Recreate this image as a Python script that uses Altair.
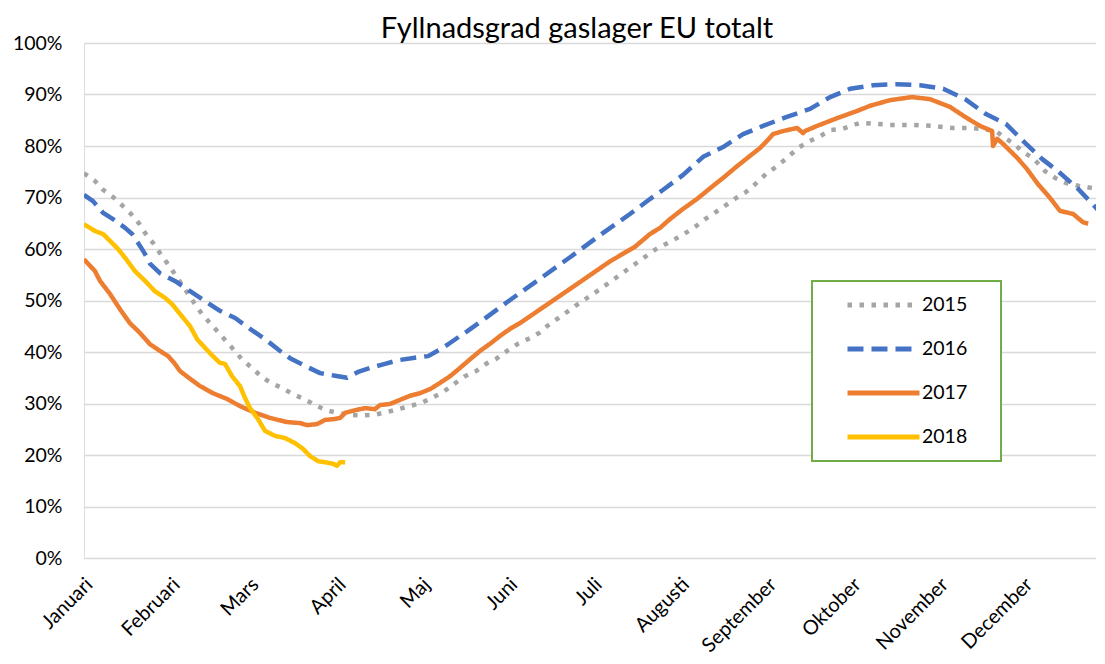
import altair as alt
import pandas as pd

# ---------------- data ----------------
years = ["2015", "2016", "2017", "2018"]
colors = ["#A5A5A5", "#4472C4", "#ED7D31", "#FFC000"]
dashes = [[4.5, 7.5], [16, 8], [1, 0], [1, 0]]

months = ["Januari", "Februari", "Mars", "April", "Maj", "Juni", "Juli",
          "Augusti", "September", "Oktober", "November", "December"]
month_start_days = [0, 31, 59, 90, 120, 151, 181, 212, 243, 273, 304, 334]
y_ticks = [0, 0.1, 0.2, 0.3, 0.4, 0.5, 0.6, 0.7, 0.8, 0.9, 1.0]

days_2015 = [0, 3.9, 6.8, 10.3, 13.5, 16.7, 19.5, 21.7, 24.5, 27.0, 29.5, 32.3, 37.0, 39.4,
             41.9, 44.8, 47.6, 50.5, 53.3, 56.1, 59.7, 63.3, 66.5, 70.4, 74.3, 78.2, 82.1,
             86.0, 89.9, 94.5, 98.8, 103.1, 107.3, 111.6, 115.8, 119.8, 123.7, 127.6, 131.5,
             135.4, 139.3, 142.9, 146.8, 150.3, 154.2, 158.5, 161.7, 164.5, 174.5, 183.4,
             193.3, 203.3, 208.9, 213.2, 217.1, 220.7, 224.6, 228.1, 231.7, 235.3, 238.5,
             242.4, 246.3, 249.8, 253.7, 257.3, 261.5, 265.5, 269.4, 272.6, 275.8, 281.4,
             286.4, 293.5, 301.7, 308.8, 314.5, 319.5, 324.1, 326.9, 330.5, 333.7, 337.2,
             341.5, 345.1, 349.0, 353.9, 358.6, 362.8]
fill_2015 = [74.7, 73.2, 71.5, 70.1, 68.5, 66.8, 65.0, 63.1, 61.2, 59.2, 57.3, 55.1, 51.3, 49.3,
             47.4, 45.6, 43.9, 42.1, 40.4, 38.6, 36.9, 35.1, 34.0, 33.0, 31.8, 30.9, 29.7,
             28.7, 28.2, 27.8, 27.7, 27.8, 28.3, 28.9, 29.5, 30.1, 31.1, 32.2, 33.8,
             35.3, 36.3, 37.7, 38.8, 40.2, 41.6, 42.7, 43.7, 45.0, 48.9, 52.2,
             56.1, 60.0, 61.6, 62.9, 64.3, 65.8, 67.2, 68.5, 69.9, 71.1, 72.6,
             74.6, 76.1, 77.7, 79.6, 80.8, 81.9, 83.1, 83.3, 83.9, 84.5, 84.3,
             84.1, 84.1, 83.9, 83.5, 83.5, 83.3, 82.9, 81.7, 80.4, 78.8, 77.7,
             75.1, 73.8, 72.8, 72.2, 71.8, 71.5]

days_2016 = [0, 3.2, 6.8, 10.3, 14.6, 17.1, 19.9, 21.7, 23.5, 27.0, 32.3, 37.7, 43.0, 48.3,
             53.7, 59.0, 64.3, 69.7, 73.2, 78.5, 83.9, 89.2, 93.5, 97.7, 101.6, 106.3, 111.6,
             117.6, 122.3, 126.5, 129.4, 133.6, 136.1, 139.7, 151.4, 162.0, 172.7, 183.4,
             194.0, 201.1, 205.8, 212.9, 220.0, 227.1, 234.2, 241.3, 249.5, 258.0, 265.1,
             272.2, 280.4, 288.6, 297.1, 305.3, 313.1, 320.5, 327.6, 334.4, 340.4, 346.1,
             353.2, 359.6, 362.8]
fill_2016 = [70.5, 69.3, 67.0, 65.8, 64.1, 62.9, 60.6, 59.0, 57.1, 55.3, 53.8, 51.8, 49.9, 48.0,
             46.6, 44.5, 42.5, 40.2, 38.8, 37.3, 35.9, 35.4, 35.0, 36.2, 36.9, 37.6, 38.4,
             38.9, 39.2, 40.5, 41.5, 43.1, 44.0, 45.4, 50.1, 54.2, 58.4, 62.7,
             66.8, 69.7, 71.5, 74.4, 77.9, 79.8, 82.3, 83.9, 85.6, 87.2, 89.5,
             91.1, 91.8, 92.0, 91.8, 91.1, 89.1, 86.2, 84.3, 80.6, 77.5, 75.1,
             71.7, 68.0, 66.0]

days_2017 = [0, 3.9, 5.7, 9.2, 12.8, 16.3, 19.9, 23.5, 27.0, 29.9, 32.3, 34.1, 37.7, 41.2,
             45.8, 50.8, 55.4, 60.8, 66.1, 72.1, 76.8, 79.2, 82.8, 85.6, 89.2, 91.0, 92.8,
             96.3, 99.9, 103.4, 105.2, 108.7, 112.3, 115.8, 119.4, 123.0, 126.5, 130.1,
             133.6, 137.2, 140.7, 144.3, 147.8, 151.4, 154.9, 165.6, 176.3, 186.9, 195.7,
             201.1, 204.7, 208.2, 212.9, 217.8, 222.5, 227.1, 232.1, 236.7, 240.2, 242.7,
             244.8, 248.4, 253.4, 255.5, 256.2, 260.5, 267.6, 274.7, 279.3, 286.4, 294.2,
             300.6, 307.7, 313.8, 318.4, 322.7, 323.0, 324.5, 326.6, 331.6, 335.1, 338.7,
             343.3, 346.8, 351.5, 353.2, 355.0, 356.8]
fill_2017 = [58.0, 55.7, 53.8, 51.3, 48.3, 45.6, 43.7, 41.5, 40.2, 39.2, 37.7, 36.3, 34.8, 33.4,
             32.0, 30.9, 29.5, 28.2, 27.2, 26.4, 26.2, 25.8, 26.0, 26.8, 27.0, 27.2, 28.2,
             28.7, 29.1, 28.9, 29.7, 29.9, 30.7, 31.5, 32.0, 32.8, 34.0, 35.3,
             36.9, 38.6, 40.2, 41.6, 43.1, 44.5, 45.6, 49.6, 53.6, 57.6, 60.4,
             62.9, 64.1, 65.8, 67.8, 69.7, 71.8, 73.8, 76.1, 78.1, 79.6, 81.0,
             82.3, 82.9, 83.5, 82.5, 82.9, 83.9, 85.4, 86.8, 87.8, 88.9, 89.5,
             89.1, 87.6, 85.4, 83.9, 82.9, 80.0, 81.4, 80.4, 77.7, 75.5, 72.8,
             69.9, 67.4, 66.8, 66.0, 65.2, 64.9]

days_2018 = [0, 3.9, 6.8, 9.2, 12.1, 14.6, 18.1, 21.7, 25.2, 28.8, 31.3, 34.1, 37.7, 40.2,
             43.0, 45.8, 48.3, 50.1, 52.6, 55.4, 57.2, 59.0, 61.8, 64.3, 67.9, 71.4, 75.0,
             77.8, 80.3, 83.2, 85.6, 88.5, 89.9, 91.0, 92.8]
fill_2018 = [64.8, 63.5, 62.9, 61.6, 60.0, 58.3, 55.7, 53.8, 51.8, 50.5, 49.3, 47.4, 45.0, 42.5,
             40.8, 39.2, 37.9, 37.7, 35.3, 33.4, 31.1, 29.1, 27.0, 24.7, 23.7, 23.3, 22.3,
             21.2, 19.8, 18.8, 18.6, 18.3, 17.9, 18.6, 18.6]

series = {
    "2015": (days_2015, fill_2015),
    "2016": (days_2016, fill_2016),
    "2017": (days_2017, fill_2017),
    "2018": (days_2018, fill_2018),
}

rows = []
for yr in years:
    d, f = series[yr]
    for i, (dd, ff) in enumerate(zip(d, f)):
        rows.append({"year": yr, "day": dd, "fill": ff / 100.0, "idx": i})
df = pd.DataFrame(rows)

FONT = "Lato"
month_expr = ("[" + ",".join("'%s'" % m for m in months) + "][indexof(["
              + ",".join(str(v) for v in month_start_days) + "], datum.value)]")

# a blank 1px title on the right side of the entries pads the legend box
legend = alt.Legend(
    orient="none", legendX=728, legendY=238,
    title="\u2800", titleOrient="right", titleFontSize=1, titleColor="white",
    titlePadding=31,
    padding=2, strokeColor="#70AD47", fillColor="white",
    symbolType="stroke", symbolSize=72 * 72, symbolStrokeWidth=5,
    clipHeight=44, rowPadding=0, symbolOffset=31, labelOffset=0,
    labelFont=FONT, labelFontSize=19.5, labelColor="black",
)

x_enc = alt.X("day:Q",
              scale=alt.Scale(domain=[0, 359.6], nice=False, zero=False),
              axis=alt.Axis(values=month_start_days, labelExpr=month_expr,
                            labelAngle=-45, labelAlign="right", labelBaseline="top",
                            labelPadding=16, labelOffset=-2, labelFlush=False,
                            labelOverlap=False, grid=False, domain=False, ticks=False,
                            title=None, labelFont=FONT, labelFontSize=20,
                            labelColor="black"))
y_enc = alt.Y("fill:Q",
              scale=alt.Scale(domain=[0, 1], nice=False),
              axis=alt.Axis(values=y_ticks, format=".0%", grid=True,
                            gridColor="#D9D9D9", gridWidth=1.4, domain=False,
                            ticks=False, title=None, labelPadding=22,
                            minExtent=76, maxExtent=76, labelFont=FONT,
                            labelFontSize=19.5, labelColor="black"))

lines = alt.Chart(df).mark_line(
    strokeWidth=4.5, strokeCap="butt", strokeJoin="round", clip=True
).encode(
    x=x_enc, y=y_enc,
    color=alt.Color("year:N", scale=alt.Scale(domain=years, range=colors), legend=legend),
    strokeDash=alt.StrokeDash("year:N", scale=alt.Scale(domain=years, range=dashes),
                              legend=legend),
    order=alt.Order("idx:Q"),
    detail="year:N",
).properties(
    width=1012, height=515,
    title=alt.Title("Fyllnadsgrad gaslager EU totalt", font=FONT, fontSize=29,
                    fontWeight="normal", color="black", anchor="middle", dx=-13,
                    offset=-11),
    padding={"left": 0, "top": 7, "right": 0, "bottom": 0},
)

chart = lines.configure_view(stroke=None).configure(background="white")
try:
    trial = chart.configure_legend(strokeWidth=2)
    trial.to_dict()
    chart = trial
except Exception:
    pass

chart.save("out.html", embed_options={"renderer": "svg", "actions": False})
